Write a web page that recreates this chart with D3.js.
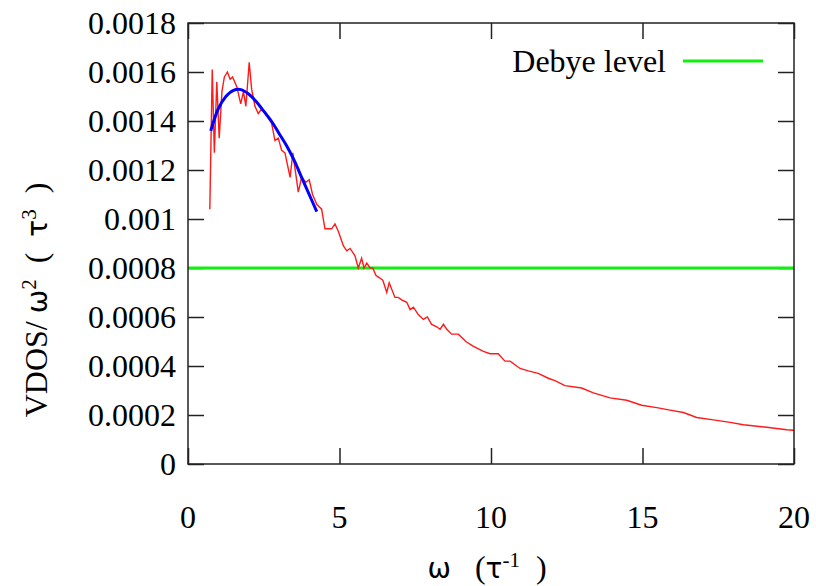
<!DOCTYPE html>
<html>
<head>
<meta charset="utf-8">
<script src="https://cdn.jsdelivr.net/npm/d3@7"></script>
<style>
  body { margin: 0; background: #fff; }
  text { font-family: "Liberation Serif", "Times New Roman", serif; white-space: pre; }
</style>
</head>
<body>
<div id="chart"></div>
<script>
// VDOS / w^2
const redOmega = [0.72, 0.80, 0.87, 0.95, 1.03, 1.12, 1.2, 1.3, 1.39, 1.47, 1.61, 1.74, 1.83, 1.91,
    2.02, 2.10, 2.21, 2.32, 2.43, 2.6, 2.71, 2.76, 2.87, 2.98, 3.09, 3.2, 3.37, 3.46, 3.64, 3.75,
    3.89, 4.0, 4.11, 4.25, 4.41, 4.52, 4.74, 4.85, 4.96, 5.13, 5.24, 5.35, 5.51, 5.62, 5.73, 5.81,
    5.9, 6.01, 6.1, 6.2, 6.32, 6.43, 6.56, 6.64, 6.83, 6.94, 7.05, 7.22, 7.33, 7.44, 7.6, 7.77,
    7.9, 8.04, 8.21, 8.32, 8.43, 8.54, 8.7, 8.92, 9.09, 9.17, 9.42, 9.75, 9.97, 10.24, 10.46,
    10.63, 10.96, 11.23, 11.56, 11.89, 12.11, 12.44, 12.99, 13.38, 13.93, 14.48, 14.97, 15.47,
    15.91, 16.35, 16.79, 17.34, 17.89, 18.33, 19.1, 19.76, 20]
const redVdos = [0.00104, 0.00161, 0.00127, 0.00156, 0.00133, 0.00152, 0.00158, 0.0016, 0.00157,
    0.00158, 0.00154, 0.00147, 0.00152, 0.00146, 0.00164, 0.00153, 0.00146, 0.00143, 0.00145,
    0.00142, 0.0014, 0.00139, 0.00132, 0.00133, 0.00128, 0.00127, 0.00117, 0.00127, 0.00111,
    0.00117, 0.00115, 0.00116, 0.0011, 0.00106, 0.00104, 0.00096, 0.00096, 0.00098, 0.00095,
    0.00089, 0.00087, 0.00088, 0.00085, 0.0008, 0.00084, 0.0008, 0.00082, 0.0008, 0.0008,
    0.00077, 0.00076, 0.00075, 0.0007, 0.00074, 0.00068, 0.00068, 0.00067, 0.00066, 0.00063,
    0.00064, 0.00061, 0.00059, 0.0006, 0.00057, 0.00056, 0.00055, 0.00057, 0.00055, 0.00053,
    0.00053, 0.00051, 0.0005, 0.00048, 0.00046, 0.00045, 0.00045, 0.00042, 0.00042, 0.00039,
    0.00038, 0.00037, 0.00035, 0.00034, 0.00032, 0.00031, 0.00029, 0.00027, 0.00026, 0.00024,
    0.00023, 0.00022, 0.00021, 0.00019, 0.00018, 0.00017, 0.00016, 0.00015, 0.00014, 0.000138]

// fitted curve (blue)
const fitOmega = [0.75, 1.0, 1.25, 1.5, 1.75, 2.0, 2.25, 2.5, 2.75, 3.0, 3.25, 3.5, 3.75, 4.0, 4.25]
const fitVdos = [0.00136, 0.00145, 0.0015, 0.001525, 0.001528, 0.00151, 0.00148, 0.00144, 0.0014,
    0.00135, 0.0013, 0.00124, 0.00117, 0.0011, 0.00103]

const debyeLevel = 0.0008

const xTicks = [0, 5, 10, 15, 20]
const yTicks = [0, 0.0002, 0.0004, 0.0006, 0.0008, 0.001, 0.0012, 0.0014, 0.0016, 0.0018]
const yTickLabels = ['0', '0.0002', '0.0004', '0.0006', '0.0008', '0.001', '0.0012', '0.0014', '0.0016', '0.0018']

var W = 816, H = 586
// plot box (don't call these top/left: window.top is read-only)
var pL = 188, pR = 794, pT = 23, pB = 464

var svg = d3.select('#chart')
    .append('svg')
    .attr('width', W)
    .attr('height', H)

var x = d3.scaleLinear().domain([0, 20]).range([pL, pR])
var y = d3.scaleLinear().domain([0, 0.0018]).range([pB, pT])

// inward ticks on all four sides (gnuplot style)
var tick = 16
svg.append('g')
    .attr('transform', 'translate(0,' + pB + ')')
    .call(d3.axisTop(x).tickValues(xTicks).tickSize(tick).tickFormat(''))
svg.append('g')
    .attr('transform', 'translate(0,' + pT + ')')
    .call(d3.axisBottom(x).tickValues(xTicks).tickSize(tick).tickFormat(''))
svg.append('g')
    .attr('transform', 'translate(' + pL + ',0)')
    .call(d3.axisRight(y).tickValues(yTicks).tickSize(tick).tickFormat(''))
svg.append('g')
    .attr('transform', 'translate(' + pR + ',0)')
    .call(d3.axisLeft(y).tickValues(yTicks).tickSize(tick).tickFormat(''))
svg.selectAll('.domain').remove()
svg.selectAll('.tick line').attr('stroke', '#222').attr('stroke-width', 1.5)

// tick labels
svg.selectAll('text.xlab')
    .data(xTicks)
    .enter()
    .append('text')
    .attr('class', 'xlab')
    .attr('x', (d) => x(d))
    .attr('y', 528)
    .attr('text-anchor', 'middle')
    .style('font-size', '32px')
    .text((d) => d)

svg.selectAll('text.ylab')
    .data(yTicks)
    .enter()
    .append('text')
    .attr('class', 'ylab')
    .attr('x', 176)
    .attr('y', (d) => y(d) + 11)
    .attr('text-anchor', 'end')
    .style('font-size', '32px')
    .text((d, i) => yTickLabels[i])

// debye level
svg.append('line')
    .attr('x1', x(0)).attr('x2', x(20))
    .attr('y1', y(debyeLevel)).attr('y2', y(debyeLevel))
    .attr('stroke', '#11ee11')
    .attr('stroke-width', 3)

var line = d3.line().x((d) => x(d[0])).y((d) => y(d[1]))

svg.append('path')
    .datum(redOmega.map((w, i) => [w, redVdos[i]]))
    .attr('d', line)
    .attr('fill', 'none')
    .attr('stroke', '#ff1a1a')
    .attr('stroke-width', 1.4)

svg.append('path')
    .datum(fitOmega.map((w, i) => [w, fitVdos[i]]))
    .attr('d', line.curve(d3.curveCatmullRom))
    .attr('fill', 'none')
    .attr('stroke', '#0000ff')
    .attr('stroke-width', 3)

// frame
svg.append('rect')
    .attr('x', pL).attr('y', pT)
    .attr('width', pR - pL).attr('height', pB - pT)
    .attr('fill', 'none')
    .attr('stroke', '#222')
    .attr('stroke-width', 1.5)

// legend
svg.append('text')
    .attr('x', 666)
    .attr('y', 72)
    .attr('text-anchor', 'end')
    .style('font-size', '32px')
    .text('Debye level')
svg.append('line')
    .attr('x1', 683).attr('x2', 763)
    .attr('y1', 61).attr('y2', 61)
    .attr('stroke', '#11ee11')
    .attr('stroke-width', 3)

// axis titles
var xt = svg.append('text')
    .attr('x', 487)
    .attr('y', 578)
    .attr('text-anchor', 'middle')
    .style('font-size', '32px')
xt.append('tspan').style('font-family', 'DejaVu Sans').style('font-size', '28px').text('ω')
xt.append('tspan').text('   (')
xt.append('tspan').style('font-family', 'DejaVu Sans').style('font-size', '28px').text('τ')
xt.append('tspan').attr('dy', -11).style('font-size', '21px').text('-1')
xt.append('tspan').attr('dy', 11).text('  )')

var yt = svg.append('text')
    .attr('transform', 'translate(47,300) rotate(-90)')
    .attr('text-anchor', 'middle')
    .style('font-size', '32px')
yt.append('tspan').text('VDOS/ ')
yt.append('tspan').style('font-family', 'DejaVu Sans').style('font-size', '28px').text('ω')
yt.append('tspan').attr('dy', -11).style('font-size', '21px').text('2')
yt.append('tspan').attr('dy', 11).text('  (  ')
yt.append('tspan').style('font-family', 'DejaVu Sans').style('font-size', '28px').text('τ')
yt.append('tspan').attr('dy', -11).style('font-size', '21px').text('3')
yt.append('tspan').attr('dy', 11).text('  )')
</script>
</body>
</html>
